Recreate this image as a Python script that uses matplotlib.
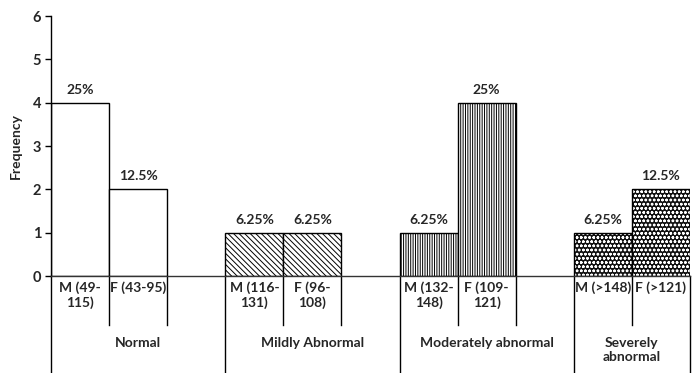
import matplotlib
import matplotlib.pyplot as plt
import matplotlib.transforms as mtransforms

matplotlib.use("Agg")

# data
group_names = ["Normal", "Mildly Abnormal", "Moderately abnormal", "Severely\nabnormal"]
group_sizes = [3, 3, 3, 2]  # slots per group (last slot of first three is empty)
sub_labels = [
    "M (49-\n115)", "F (43-95)", "",
    "M (116-\n131)", "F (96-\n108)", "",
    "M (132-\n148)", "F (109-\n121)", "",
    "M (>148)", "F (>121)",
]
frequency = [4, 2, 0, 1, 1, 0, 1, 4, 0, 1, 2]
percent_labels = ["25%", "12.5%", "", "6.25%", "6.25%", "", "6.25%", "25%", "", "6.25%", "12.5%"]
group_hatches = ["", "\\\\\\\\\\\\", "|||||||", "oooo"]

plt.rcParams["font.family"] = ["Lato", "DejaVu Sans"]
plt.rcParams["font.weight"] = "bold"
plt.rcParams["hatch.linewidth"] = 0.7

TXT = "#262626"
fig = plt.figure(figsize=(6.92, 3.73), dpi=100)
ax = fig.add_axes([51 / 692, 97 / 373, 639 / 692, 260 / 373])

slot = 0
for g, size in enumerate(group_sizes):
    for k in range(size):
        i = slot + k
        if sub_labels[i] == "":
            continue
        h = group_hatches[g]
        if h.startswith("o"):
            ax.bar(i, frequency[i], width=1.0, color="#111111", edgecolor="white",
                   hatch=h, linewidth=0)
            ax.bar(i, frequency[i], width=1.0, facecolor="none", edgecolor="black",
                   linewidth=1.0)
        else:
            ax.bar(i, frequency[i], width=1.0, color="white", edgecolor="black",
                   hatch=h, linewidth=1.0)
        ax.annotate(percent_labels[i], (i, frequency[i]), xytext=(0, 5),
                    textcoords="offset points", ha="center", va="bottom",
                    fontsize=10, fontweight="bold", color=TXT)
    slot += size

n = len(sub_labels)
ax.set_xlim(-0.5, n - 0.5)
ax.set_ylim(0, 6)
ax.set_yticks(range(7))
ax.set_xticks([])
ax.tick_params(axis="y", direction="out", length=4, width=1, labelsize=10.5, pad=3,
               labelcolor=TXT)
for lab in ax.get_yticklabels():
    lab.set_fontweight("bold")
ax.spines["top"].set_visible(False)
ax.spines["right"].set_visible(False)
ax.spines["left"].set_linewidth(1.0)
ax.spines["bottom"].set_linewidth(1.0)
ax.spines["bottom"].set_color("#333333")
ax.set_ylabel("Frequency", fontsize=10, fontweight="bold", labelpad=8, color=TXT)

# multi-level category axis
trans = mtransforms.blended_transform_factory(ax.transData, ax.transAxes)
long_bottom = -97 / 260
short_bottom = -49 / 260

for i, lab in enumerate(sub_labels):
    if lab:
        ax.text(i, -0.022, lab, transform=trans, ha="center", va="top",
                fontsize=10, fontweight="bold", linespacing=1.2, color=TXT)

slot = 0
for g, size in enumerate(group_sizes):
    left = slot - 0.5
    right = slot + size - 0.5
    ax.plot([left, left], [0, long_bottom], transform=trans, color="black",
            linewidth=1.0, clip_on=False)
    for k in range(1, size):
        x = slot + k - 0.5
        ax.plot([x, x], [0, short_bottom], transform=trans, color="black",
                linewidth=1.0, clip_on=False)
    ax.text((left + right) / 2, -0.235, group_names[g], transform=trans,
            ha="center", va="top", fontsize=10, fontweight="bold",
            linespacing=1.2, color=TXT)
    slot += size
ax.plot([n - 0.5, n - 0.5], [0, long_bottom], transform=trans, color="black",
        linewidth=1.0, clip_on=False)

fig.savefig("out.png", dpi=100)
